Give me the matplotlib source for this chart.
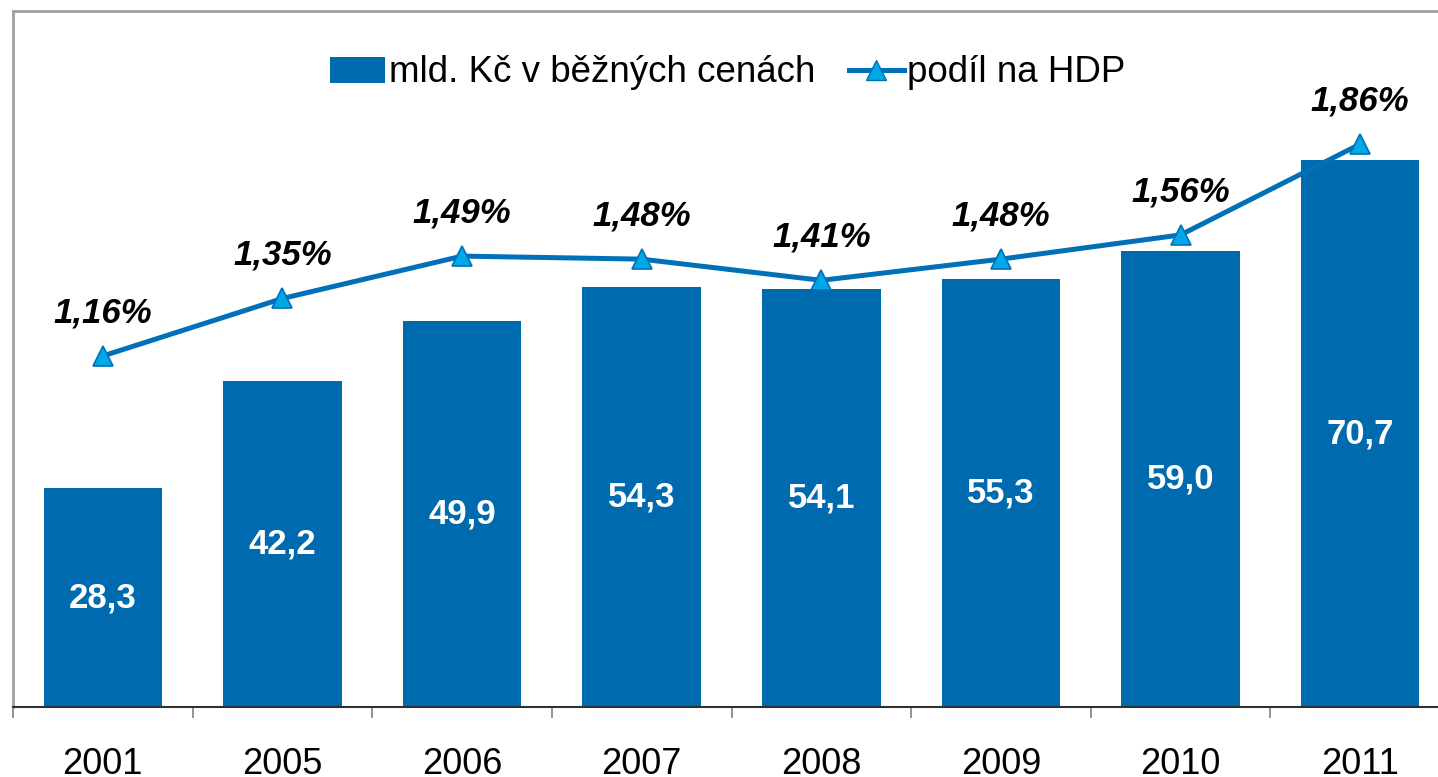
import matplotlib
matplotlib.use("Agg")
import matplotlib.pyplot as plt
from matplotlib.lines import Line2D
from matplotlib.patches import Patch

plt.rcParams['font.family'] = ['Liberation Sans', 'DejaVu Sans']

# data
years = ['2001', '2005', '2006', '2007', '2008', '2009', '2010', '2011']
mld_kc = [28.3, 42.2, 49.9, 54.3, 54.1, 55.3, 59.0, 70.7]
podil_hdp = [1.16, 1.35, 1.49, 1.48, 1.41, 1.48, 1.56, 1.86]

bar_color = '#006AAE'
line_color = '#0070B8'
marker_color = '#00A8E8'

W, H = 1438, 777
fig = plt.figure(figsize=(W / 100, H / 100), dpi=100)

# plot area in pixels: left 13, right 1450 (runs off the picture), top 11, bottom 707
ax = fig.add_axes([13 / W, (H - 707) / H, (1450 - 13) / W, (707 - 11) / H])
x = list(range(len(years)))

bars = ax.bar(x, mld_kc, width=0.66, color=bar_color, zorder=2)
ax.set_xlim(-0.5, len(years) - 0.5)
ax.set_ylim(0, 90)
ax.set_yticks([])

for xi, v in zip(x, mld_kc):
    ax.text(xi, v / 2, f"{v:.1f}".replace('.', ','), ha='center', va='center',
            color='white', fontsize=25, fontweight='bold', zorder=3)

ax.set_xticks(x)
ax.set_xticklabels(years, fontsize=26)
ax.tick_params(axis='x', which='major', length=0, pad=29)
ax.set_xticks([i - 0.5 for i in range(len(years) + 1)], minor=True)
ax.tick_params(axis='x', which='minor', length=8, width=1.2, color='#808080')

for side in ['left', 'top', 'right']:
    ax.spines[side].set_color('#A0A0A0')
    ax.spines[side].set_linewidth(2)
ax.spines['bottom'].set_color('#303030')
ax.spines['bottom'].set_linewidth(1.5)

# share of GDP on a hidden second axis
ax2 = ax.twinx()
ax2.set_ylim(0, 2.3)
ax2.axis('off')
ax2.plot(x, podil_hdp, color=line_color, linewidth=3.6, marker='^', markersize=14,
         markerfacecolor=marker_color, markeredgecolor=line_color, markeredgewidth=1.2,
         zorder=4)
for xi, p in zip(x, podil_hdp):
    ax2.annotate(f"{p:.2f}%".replace('.', ','), (xi, p), xytext=(0, 31),
                 textcoords='offset points', ha='center', va='center',
                 fontsize=25, fontweight='bold', fontstyle='italic', color='black')

handles = [Patch(facecolor=bar_color, edgecolor='none'),
           Line2D([0], [0], color=line_color, linewidth=3.6, marker='^', markersize=14,
                  markerfacecolor=marker_color, markeredgecolor=line_color)]
fig.legend(handles, ['mld. Kč v běžných cenách', 'podíl na HDP'], ncol=2,
           loc='center', bbox_to_anchor=(728 / W, 1 - 73 / H), frameon=False,
           fontsize=26.5, handlelength=1.5, handletextpad=0.1, columnspacing=0.9)

fig.savefig('out.png', dpi=100)
